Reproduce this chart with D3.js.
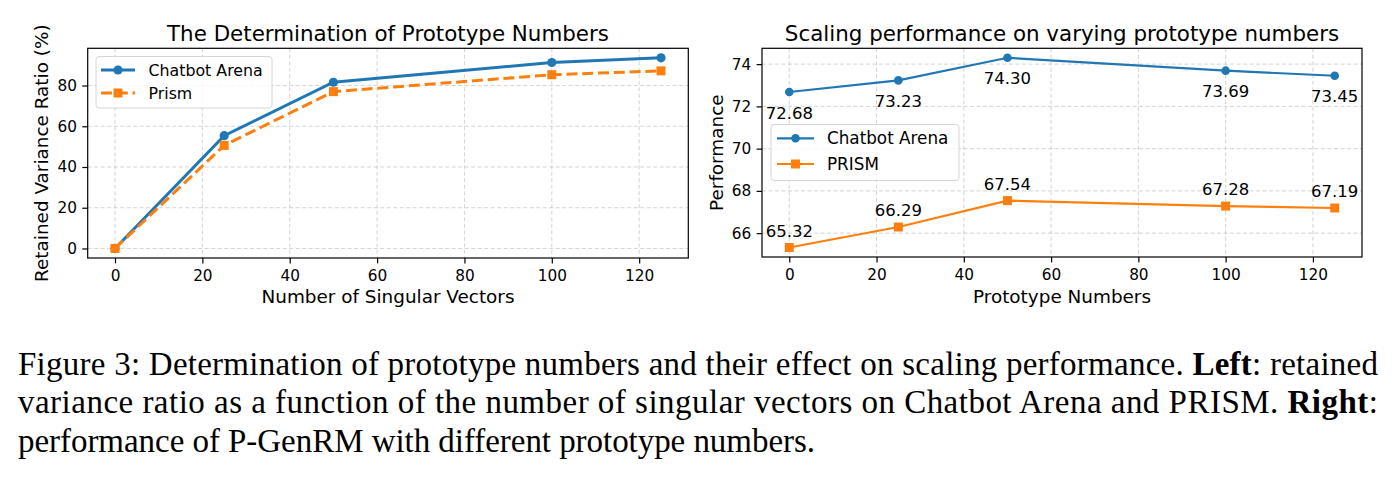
<!DOCTYPE html>
<html lang="en">
<head>
    <meta charset="UTF-8">
    <title>Prototype numbers</title>
    <script src="https://d3js.org/d3.v7.min.js"></script>
    <style>
        body { margin: 0; background: #fff; }
        svg { display: block; }
        .sans { font-family: "DejaVu Sans", sans-serif; fill: #000; }
        .grid line { stroke: #b0b0b0; stroke-opacity: .55; stroke-width: 1; stroke-dasharray: 4,2.5; }
        .frame { fill: none; stroke: #000; stroke-width: 1.2; }
        .legend-box { fill: #fff; fill-opacity: .8; stroke: #d6d6d6; stroke-width: 1; }
        .caption { font-family: "Liberation Serif", "Times New Roman", serif; font-size: 33px; fill: #000; }
    </style>
</head>
<body>
<script>
    const width = 1396;
    const height = 484;

    // ---- data ----
    const singularVectors = [0, 25, 50, 100, 125];
    const chatbotVariance = [0, 55.4, 81.6, 91.3, 93.6];
    const prismVariance   = [0, 50.6, 77.0, 85.3, 87.2];

    const prototypeNumbers = [0, 25, 50, 100, 125];
    const chatbotPerf = [72.68, 73.23, 74.30, 73.69, 73.45];
    const prismPerf   = [65.32, 66.29, 67.54, 67.28, 67.19];

    const xTicks = [0, 20, 40, 60, 80, 100, 120];
    const leftYTicks = [0, 20, 40, 60, 80];
    const rightYTicks = [66, 68, 70, 72, 74];

    const leftSeries = ["Chatbot Arena", "Prism"];
    const rightSeries = ["Chatbot Arena", "PRISM"];

    const blue = "#1f77b4";
    const orange = "#ff7f0e";

    const captionLines = [
        [["Figure 3: Determination of prototype numbers and their effect on scaling performance. ", false], ["Left", true], [": retained", false]],
        [["variance ratio as a function of the number of singular vectors on Chatbot Arena and PRISM. ", false], ["Right", true], [":", false]],
        [["performance of P-GenRM with different prototype numbers.", false]]
    ];

    const svg = d3.select("body").append("svg")
        .attr("width", width).attr("height", height);

    // matplotlib-like autoscale with 5% margins
    function padded(values) {
        const [lo, hi] = d3.extent(values);
        const m = (hi - lo) * 0.05;
        return [lo - m, hi + m];
    }

    function panel(opt) {
        const x = d3.scaleLinear().domain(padded(opt.xs)).range([opt.left, opt.right]);
        const y = d3.scaleLinear().domain(padded(opt.a.concat(opt.b))).range([opt.bottom, opt.top]);
        const g = svg.append("g");

        // grid
        const grid = g.append("g").attr("class", "grid");
        grid.selectAll("line.vx").data(opt.xTicks).enter().append("line")
            .attr("x1", d => x(d)).attr("x2", d => x(d))
            .attr("y1", opt.top).attr("y2", opt.bottom);
        grid.selectAll("line.hy").data(opt.yTicks).enter().append("line")
            .attr("x1", opt.left).attr("x2", opt.right)
            .attr("y1", d => y(d)).attr("y2", d => y(d));

        // axes
        const xAxis = g.append("g")
            .attr("transform", `translate(0,${opt.bottom})`)
            .call(d3.axisBottom(x).tickValues(opt.xTicks).tickSize(5.4).tickPadding(6.6).tickSizeOuter(0));
        const yAxis = g.append("g")
            .attr("transform", `translate(${opt.left},0)`)
            .call(d3.axisLeft(y).tickValues(opt.yTicks).tickSize(5.4).tickPadding(5.4).tickSizeOuter(0));
        [xAxis, yAxis].forEach(a => {
            a.select(".domain").remove();
            a.selectAll(".tick line").attr("stroke", "#000").attr("stroke-width", 1.2);
            a.selectAll(".tick text").attr("class", "sans")
                .style("font-size", "15.3px").attr("fill", "#000");
        });

        g.append("rect").attr("class", "frame")
            .attr("x", opt.left).attr("y", opt.top)
            .attr("width", opt.right - opt.left).attr("height", opt.bottom - opt.top);

        // titles
        const cx = (opt.left + opt.right) / 2;
        g.append("text").attr("class", "sans").attr("x", cx).attr("y", 40.7)
            .attr("text-anchor", "middle").style("font-size", "21.4px").text(opt.title);
        g.append("text").attr("class", "sans").attr("x", cx).attr("y", 303)
            .attr("text-anchor", "middle").style("font-size", "18.4px").text(opt.xLabel);
        g.append("text").attr("class", "sans")
            .attr("transform", `translate(${opt.yLabelX},${(opt.top + opt.bottom) / 2}) rotate(-90)`)
            .attr("text-anchor", "middle").style("font-size", "18.4px").text(opt.yLabel);

        // series
        const line = d3.line().x((d, i) => x(opt.xs[i])).y(d => y(d));
        g.append("path").datum(opt.a).attr("d", line)
            .attr("fill", "none").attr("stroke", blue).attr("stroke-width", opt.lw);
        g.append("path").datum(opt.b).attr("d", line)
            .attr("fill", "none").attr("stroke", orange).attr("stroke-width", opt.lw)
            .attr("stroke-dasharray", opt.dashed ? "11,4.8" : null);

        g.selectAll("circle.pt").data(opt.a).enter().append("circle")
            .attr("cx", (d, i) => x(opt.xs[i])).attr("cy", d => y(d))
            .attr("r", opt.r).attr("fill", blue);
        g.selectAll("rect.pt").data(opt.b).enter().append("rect")
            .attr("x", (d, i) => x(opt.xs[i]) - opt.sq / 2).attr("y", d => y(d) - opt.sq / 2)
            .attr("width", opt.sq).attr("height", opt.sq).attr("fill", orange);

        if (opt.labels) {
            g.selectAll("text.la").data(opt.a).enter().append("text").attr("class", "sans")
                .attr("x", (d, i) => x(opt.xs[i])).attr("y", d => y(d) + 26.5)
                .attr("text-anchor", "middle").style("font-size", "16.5px")
                .text(d => d.toFixed(2));
            g.selectAll("text.lb").data(opt.b).enter().append("text").attr("class", "sans")
                .attr("x", (d, i) => x(opt.xs[i])).attr("y", d => y(d) - 11)
                .attr("text-anchor", "middle").style("font-size", "16.5px")
                .text(d => d.toFixed(2));
        }

        // legend
        const L = opt.legend;
        g.append("rect").attr("class", "legend-box")
            .attr("x", L.x).attr("y", L.y).attr("width", L.w).attr("height", L.h).attr("rx", 3);
        opt.names.forEach((name, i) => {
            const ry = L.rows[i];
            const col = i === 0 ? blue : orange;
            g.append("line").attr("x1", L.hx0).attr("x2", L.hx1).attr("y1", ry).attr("y2", ry)
                .attr("stroke", col).attr("stroke-width", opt.lw)
                .attr("stroke-dasharray", i === 1 && opt.dashed ? "11,4.8" : null);
            const mx = (L.hx0 + L.hx1) / 2;
            if (i === 0) {
                g.append("circle").attr("cx", mx).attr("cy", ry).attr("r", opt.r).attr("fill", col);
            } else {
                g.append("rect").attr("x", mx - opt.sq / 2).attr("y", ry - opt.sq / 2)
                    .attr("width", opt.sq).attr("height", opt.sq).attr("fill", col);
            }
            g.append("text").attr("class", "sans").attr("x", L.tx).attr("y", ry)
                .attr("dy", "0.36em").style("font-size", L.fs).text(name);
        });
    }

    panel({
        left: 87.7, right: 688.3, top: 48.3, bottom: 258,
        xs: singularVectors, a: chatbotVariance, b: prismVariance,
        xTicks: xTicks, yTicks: leftYTicks,
        title: "The Determination of Prototype Numbers",
        xLabel: "Number of Singular Vectors",
        yLabel: "Retained Variance Ratio (%)", yLabelX: 48.3,
        lw: 3, r: 4.6, sq: 9, dashed: true, labels: false,
        names: leftSeries,
        legend: { x: 96, y: 56.5, w: 176, h: 51.5, rows: [70, 93], hx0: 101, hx1: 135, tx: 148.5, fs: "15.8px" }
    });

    panel({
        left: 762, right: 1362, top: 48.3, bottom: 257,
        xs: prototypeNumbers, a: chatbotPerf, b: prismPerf,
        xTicks: xTicks, yTicks: rightYTicks,
        title: "Scaling performance on varying prototype numbers",
        xLabel: "Prototype Numbers",
        yLabel: "Performance", yLabelX: 723.3,
        lw: 2.2, r: 4.3, sq: 9, dashed: false, labels: true,
        names: rightSeries,
        legend: { x: 771, y: 124.5, w: 188, h: 56, rows: [138.3, 164], hx0: 777, hx1: 814, tx: 827, fs: "16.8px" }
    });

    // caption
    const baselines = [375, 413.3, 451.7];
    const lineWidths = [1360, 1360, 797];
    captionLines.forEach((parts, i) => {
        const t = svg.append("text").attr("class", "caption")
            .attr("x", 18).attr("y", baselines[i])
            .attr("textLength", lineWidths[i]).attr("lengthAdjust", "spacing");
        parts.forEach(([s, b]) => {
            t.append("tspan").attr("font-weight", b ? "bold" : null).text(s);
        });
    });
</script>
</body>
</html>
